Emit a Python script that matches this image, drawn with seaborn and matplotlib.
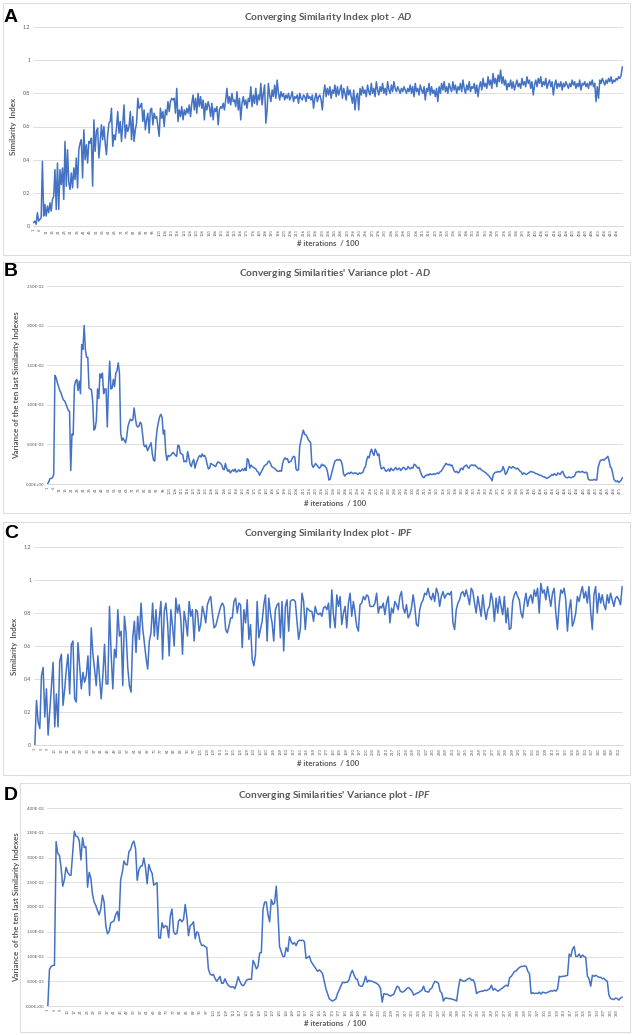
import numpy as np
import pandas as pd
import matplotlib
matplotlib.use("Agg")
import matplotlib.pyplot as plt
from matplotlib.patches import Rectangle
import seaborn as sns

# ---------------- data ----------------
ad_similarity = [
    0.02, 0.03, 0.01, 0.08, 0.03, 0.04, 0.05, 0.39, 0.06, 0.13,
    0.06, 0.12, 0.08, 0.14, 0.09, 0.16, 0.18, 0.34, 0.10, 0.38,
    0.10, 0.34, 0.25, 0.35, 0.16, 0.51, 0.24, 0.46, 0.26, 0.22,
    0.32, 0.23, 0.35, 0.28, 0.41, 0.23, 0.46, 0.50, 0.52, 0.29,
    0.58, 0.40, 0.49, 0.38, 0.51, 0.50, 0.53, 0.24, 0.64, 0.45,
    0.57, 0.59, 0.41, 0.50, 0.61, 0.52, 0.60, 0.50, 0.43, 0.55,
    0.62, 0.63, 0.71, 0.48, 0.55, 0.52, 0.59, 0.69, 0.56, 0.63,
    0.51, 0.62, 0.73, 0.53, 0.61, 0.57, 0.60, 0.69, 0.52, 0.66,
    0.51, 0.58, 0.62, 0.77, 0.71, 0.72, 0.74, 0.63, 0.70, 0.58,
    0.64, 0.68, 0.56, 0.70, 0.71, 0.61, 0.68, 0.65, 0.66, 0.60,
    0.54, 0.71, 0.65, 0.69, 0.60, 0.70, 0.67, 0.75, 0.69, 0.75,
    0.77, 0.76, 0.77, 0.68, 0.83, 0.63, 0.70, 0.66, 0.72, 0.64,
    0.70, 0.67, 0.71, 0.68, 0.73, 0.66, 0.74, 0.79, 0.70, 0.77,
    0.68, 0.80, 0.72, 0.78, 0.71, 0.76, 0.64, 0.74, 0.70, 0.75,
    0.72, 0.66, 0.74, 0.64, 0.71, 0.69, 0.72, 0.61, 0.70, 0.72,
    0.71, 0.74, 0.70, 0.76, 0.83, 0.74, 0.78, 0.73, 0.80, 0.75,
    0.76, 0.72, 0.81, 0.70, 0.77, 0.64, 0.74, 0.78, 0.73, 0.76,
    0.71, 0.77, 0.75, 0.84, 0.72, 0.79, 0.74, 0.83, 0.73, 0.79,
    0.76, 0.86, 0.73, 0.80, 0.85, 0.62, 0.70, 0.86, 0.79, 0.75,
    0.82, 0.78, 0.85, 0.77, 0.88, 0.80, 0.76, 0.81, 0.78, 0.80,
    0.76, 0.79, 0.77, 0.80, 0.76, 0.78, 0.81, 0.75, 0.78, 0.77,
    0.79, 0.74, 0.80, 0.77, 0.76, 0.79, 0.78, 0.75, 0.80, 0.77,
    0.78, 0.76, 0.79, 0.71, 0.77, 0.80, 0.75, 0.78, 0.79, 0.76,
    0.70, 0.80, 0.85, 0.78, 0.83, 0.79, 0.84, 0.77, 0.82, 0.80,
    0.85, 0.78, 0.84, 0.79, 0.82, 0.85, 0.77, 0.83, 0.80, 0.76,
    0.84, 0.79, 0.82, 0.78, 0.74, 0.82, 0.70, 0.78, 0.80, 0.70,
    0.83, 0.79, 0.84, 0.80, 0.82, 0.78, 0.85, 0.81, 0.79, 0.86,
    0.80, 0.83, 0.78, 0.87, 0.82, 0.79, 0.84, 0.81, 0.86, 0.80,
    0.83, 0.79, 0.87, 0.82, 0.80, 0.85, 0.81, 0.87, 0.83, 0.81,
    0.84, 0.82, 0.80, 0.83, 0.81, 0.84, 0.82, 0.80, 0.83, 0.81,
    0.85, 0.80, 0.84, 0.78, 0.86, 0.81, 0.83, 0.79, 0.85, 0.82,
    0.80, 0.84, 0.76, 0.83, 0.81, 0.86, 0.79, 0.84, 0.80, 0.82,
    0.78, 0.83, 0.75, 0.84, 0.80, 0.86, 0.82, 0.87, 0.81, 0.84,
    0.80, 0.86, 0.83, 0.81, 0.87, 0.82, 0.85, 0.80, 0.84, 0.82,
    0.86, 0.81, 0.88, 0.83, 0.80, 0.85, 0.82, 0.87, 0.81, 0.84,
    0.83, 0.86, 0.80, 0.85, 0.78, 0.84, 0.87, 0.82, 0.89, 0.84,
    0.86, 0.83, 0.90, 0.85, 0.88, 0.83, 0.92, 0.86, 0.89, 0.84,
    0.91, 0.87, 0.94, 0.86, 0.90, 0.85, 0.88, 0.82, 0.86, 0.84,
    0.88, 0.83, 0.87, 0.82, 0.85, 0.88, 0.84, 0.86, 0.83, 0.89,
    0.85, 0.87, 0.84, 0.90, 0.86, 0.88, 0.83, 0.87, 0.79, 0.85,
    0.88, 0.84, 0.89, 0.86, 0.90, 0.84, 0.87, 0.85, 0.89, 0.83,
    0.86, 0.88, 0.84, 0.87, 0.79, 0.85, 0.88, 0.83, 0.86, 0.84,
    0.87, 0.82, 0.86, 0.84, 0.87, 0.85, 0.83, 0.86, 0.84, 0.88,
    0.85, 0.87, 0.83, 0.86, 0.84, 0.88, 0.82, 0.86, 0.85, 0.87,
    0.84, 0.86, 0.83, 0.87, 0.85, 0.88, 0.84, 0.86, 0.75, 0.84,
    0.77, 0.88, 0.86, 0.89, 0.87, 0.85, 0.88, 0.86, 0.89, 0.87,
    0.90, 0.86, 0.88, 0.87, 0.89, 0.88, 0.90, 0.89, 0.91, 0.96,
]

# variance of the ten last similarity indexes, in units of 1e-3
ad_variance_e3 = [
    0.0, 0.3, 0.7, 0.7, 0.8, 1.2, 13.7, 13.4, 12.8, 12.3,
    11.8, 11.5, 11.0, 10.6, 10.5, 10.1, 9.7, 9.3, 9.2, 1.7,
    6.3, 6.2, 12.3, 13.0, 13.2, 11.8, 13.0, 11.4, 17.6, 17.0,
    20.0, 17.0, 16.0, 16.0, 12.1, 12.0, 11.9, 10.5, 6.8, 7.0,
    8.0, 12.0, 10.8, 13.9, 13.4, 14.0, 11.4, 12.0, 12.0, 7.2,
    12.5, 15.5, 12.0, 12.1, 13.2, 12.3, 14.0, 14.3, 15.3, 14.0,
    6.5, 5.5, 5.8, 5.5, 5.2, 6.0, 7.3, 7.8, 8.2, 8.0,
    8.1, 9.6, 8.4, 7.4, 7.2, 7.3, 7.8, 7.6, 6.2, 4.9,
    4.7, 4.9, 4.2, 4.5, 4.9, 5.2, 3.8, 3.0, 2.9, 5.5,
    7.0, 7.8, 8.5, 8.8, 8.4, 6.3, 6.8, 4.0, 3.0, 3.6,
    3.5, 3.6, 3.8, 4.0, 3.8, 3.6, 3.5, 4.9, 4.8, 3.9,
    3.8, 3.7, 2.8, 2.9, 2.8, 4.1, 3.3, 2.5, 2.2, 2.8,
    3.1, 2.0, 2.6, 3.0, 3.4, 3.6, 3.4, 3.8, 3.5, 3.6,
    3.2, 2.5, 1.9, 2.0, 2.6, 2.5, 2.4, 2.3, 2.2, 2.6,
    2.8, 2.7, 2.6, 2.4, 1.9, 1.8, 2.6, 2.0, 1.6, 1.8,
    1.4, 1.6, 1.8, 1.6, 1.9, 1.5, 1.6, 1.8, 1.6, 1.7,
    1.9, 1.7, 2.0, 1.7, 3.2, 3.0, 2.0, 2.4, 2.2, 2.1,
    2.0, 1.9, 1.6, 1.5, 1.1, 1.4, 1.7, 2.0, 2.3, 2.4,
    2.5, 2.8, 2.9, 2.6, 2.2, 2.1, 2.0, 1.9, 1.7, 1.6,
    1.6, 1.7, 1.6, 2.6, 3.1, 3.3, 3.1, 3.2, 2.7, 2.8,
    2.9, 3.3, 3.5, 3.4, 1.9, 1.7, 1.8, 4.7, 5.5, 6.2,
    6.8, 6.3, 6.2, 6.0, 5.6, 5.4, 5.2, 2.5, 2.1, 2.3,
    2.6, 2.4, 2.2, 2.0, 2.1,
    2.5, 2.3, 2.4, 2.2, 2.0, 1.4, 0.5, 0.6, 1.2, 1.8,
    2.4, 2.9, 3.0, 3.1, 3.0, 3.1, 2.9, 2.4, 1.3, 1.0,
    1.2, 1.3, 1.4, 1.3, 1.5, 1.4, 1.3, 1.4, 1.4, 1.3,
    1.2, 1.4, 1.3, 1.4, 1.5, 2.0, 2.2, 3.0, 3.5, 3.3,
    4.0, 4.4, 3.9, 3.6, 4.4, 4.1, 3.6, 3.8, 2.6, 1.9,
    2.0, 2.1, 1.8, 1.6, 1.7, 1.9, 1.6, 2.0, 1.8, 1.7,
    1.9, 2.1, 1.8, 1.9, 2.0, 1.7, 1.9, 2.1, 2.0, 1.8,
    1.9, 2.2, 2.0, 1.9, 2.1, 2.0, 2.5, 2.4, 2.2, 2.0,
    2.1, 1.6, 1.2, 0.9, 0.8, 1.0, 1.1, 1.2, 1.1, 1.3,
    1.2, 1.2, 1.3, 1.2, 1.3, 1.4, 1.3, 1.5, 1.6, 1.8,
    2.1, 2.3, 2.6, 2.5, 2.4, 2.5, 2.3, 2.4, 2.0, 1.6,
    1.5, 1.6, 1.4, 1.5, 1.9, 2.0, 1.8, 2.2, 2.3, 2.4,
    2.1, 2.0, 2.3, 2.4, 2.4, 2.3, 2.4, 2.2, 2.1, 1.9,
    2.0, 1.8, 1.7, 1.6, 1.5, 1.4, 1.2, 1.1, 0.9, 0.7,
    0.4, 1.2, 1.4, 1.5, 1.5, 1.6, 1.5, 1.6, 1.7, 2.2,
    1.8, 1.2, 1.4, 1.8, 2.2, 2.1, 2.0, 2.2, 2.1, 2.0,
    1.9, 2.0, 1.8, 1.6, 1.5, 1.2, 1.4, 1.3, 1.2, 1.3,
    1.4, 1.5, 1.6, 1.5, 1.5, 1.4, 1.3, 1.3, 1.2, 1.1,
    1.1, 1.0, 0.9, 0.9, 0.8, 0.7, 0.8, 0.9, 1.0, 1.2,
    1.1, 1.3, 1.2, 1.1, 1.4, 1.3, 1.2, 1.5, 1.6, 1.2,
    0.9, 0.8, 0.8, 0.9, 0.8, 0.8, 0.9, 0.9, 1.1, 1.5,
    1.5, 1.6, 1.5, 1.5, 1.6, 1.5, 1.4, 1.5, 1.4, 0.6,
    0.5, 0.5, 0.5, 0.5, 0.6, 0.5, 0.5, 2.0, 2.6, 3.0,
    3.0, 3.1, 3.0, 3.2, 3.3, 3.5, 3.0, 2.2, 2.0, 1.4,
    0.6, 0.4, 0.3, 0.4, 0.2, 0.3, 0.5, 0.8,
]

ipf_similarity = [
    0.00, 0.27, 0.14, 0.10, 0.42, 0.47, 0.17, 0.34, 0.06, 0.21,
    0.35, 0.50, 0.11, 0.31, 0.11, 0.51, 0.55, 0.24, 0.34, 0.46,
    0.55, 0.31, 0.61, 0.63, 0.28, 0.26, 0.62, 0.48, 0.34, 0.44,
    0.38, 0.42, 0.54, 0.30, 0.71, 0.55, 0.46, 0.36, 0.54, 0.41,
    0.28, 0.42, 0.61, 0.37, 0.37, 0.84, 0.55, 0.34, 0.58, 0.53,
    0.82, 0.66, 0.69, 0.36, 0.78, 0.68, 0.47, 0.36, 0.32, 0.65,
    0.75, 0.56, 0.78, 0.64, 0.86, 0.71, 0.62, 0.53, 0.46, 0.63,
    0.68, 0.86, 0.66, 0.82, 0.64, 0.77, 0.87, 0.52, 0.81, 0.86,
    0.74, 0.54, 0.82, 0.72, 0.60, 0.89, 0.80, 0.85, 0.76, 0.55,
    0.81, 0.75, 0.66, 0.87, 0.78, 0.82, 0.63, 0.82, 0.81, 0.69,
    0.73, 0.84, 0.80, 0.74, 0.85, 0.88, 0.90, 0.80, 0.71, 0.72,
    0.76, 0.80, 0.84, 0.86, 0.84, 0.70, 0.68, 0.72, 0.77, 0.77,
    0.87, 0.89, 0.80, 0.86, 0.85, 0.59, 0.82, 0.74, 0.88, 0.64,
    0.73, 0.52, 0.48, 0.55, 0.87, 0.65, 0.70, 0.75, 0.85, 0.91,
    0.63, 0.89, 0.80, 0.74, 0.63, 0.82, 0.85, 0.86, 0.65, 0.87,
    0.57, 0.84, 0.88, 0.69, 0.87, 0.88, 0.88, 0.87, 0.75, 0.64,
    0.70, 0.92, 0.87, 0.70, 0.83, 0.82, 0.81, 0.81, 0.75, 0.84,
    0.80, 0.79, 0.80,
    0.78, 0.83, 0.84, 0.82, 0.86, 0.71, 0.94, 0.79, 0.71, 0.91,
    0.84, 0.90, 0.73, 0.80, 0.84, 0.71, 0.86, 0.92, 0.78, 0.87,
    0.80, 0.72, 0.69, 0.85, 0.86, 0.90, 0.88, 0.91, 0.90, 0.84,
    0.84, 0.84, 0.86, 0.92, 0.80, 0.84, 0.83, 0.86, 0.79, 0.86,
    0.90, 0.74, 0.83, 0.80, 0.87, 0.85, 0.82, 0.90, 0.93, 0.83,
    0.80, 0.85, 0.77, 0.79, 0.83, 0.91, 0.84, 0.73, 0.72, 0.82,
    0.86, 0.88, 0.92, 0.91, 0.95, 0.90, 0.88, 0.92, 0.87, 0.95,
    0.92, 0.84, 0.90, 0.93, 0.89, 0.91, 0.92, 0.91, 0.93, 0.74,
    0.70, 0.82, 0.86, 0.88, 0.92, 0.93, 0.90, 0.94, 0.90, 0.85,
    0.95, 0.93, 0.86, 0.80, 0.90, 0.84, 0.78, 0.91, 0.82, 0.76,
    0.82, 0.84, 0.92, 0.87, 0.75, 0.89, 0.80, 0.90, 0.84, 0.79,
    0.90, 0.74, 0.83, 0.70, 0.71, 0.87, 0.91, 0.93, 0.90, 0.88,
    0.80, 0.77, 0.86, 0.92, 0.84, 0.89, 0.91, 0.86, 0.94, 0.90,
    0.95, 0.80, 0.98, 0.92, 0.94, 0.88, 0.96, 0.90, 0.84, 0.92,
    0.95, 0.80, 0.70, 0.85, 0.94, 0.92, 0.95, 0.88, 0.69, 0.82,
    0.88, 0.72, 0.75, 0.80, 0.90, 0.87, 0.92, 0.96, 0.89, 0.93,
    0.86, 0.96, 0.81, 0.70, 0.91, 0.96, 0.80, 0.92, 0.86, 0.91,
    0.85, 0.82, 0.91, 0.86, 0.92, 0.88, 0.84, 0.89, 0.90, 0.88,
    0.85, 0.96,
]

ipf_variance_e3 = [
    0.0, 7.4, 8.0, 8.2, 8.2, 33.2, 30.8, 30.5, 28.0, 24.2,
    25.5, 28.0, 27.0, 26.5, 26.4, 31.0, 35.3, 34.3, 34.2, 33.4,
    29.5, 34.0, 32.0, 32.2, 24.0, 27.0, 25.8, 22.5, 21.0, 20.3,
    19.3, 18.4, 19.6, 22.4, 21.0, 16.3, 14.6, 15.0, 16.8, 17.0,
    17.2, 18.5, 19.1, 17.2, 25.5, 27.0, 29.3, 28.6, 28.5, 31.2,
    31.6, 32.8, 33.3, 31.8, 25.4, 27.5, 28.2, 28.3, 29.9, 28.0,
    24.7, 28.6, 27.5, 26.8, 24.4, 24.7, 24.9, 13.8, 13.7, 16.8,
    15.8, 16.2, 16.1, 13.8, 18.2, 19.6, 15.0, 14.5, 14.7, 17.2,
    17.5, 17.0, 17.5, 20.5, 18.0, 14.2, 16.2, 16.5, 17.0, 13.6,
    15.0, 14.7, 13.0, 12.2, 12.3, 12.0, 11.8, 7.5, 6.5, 6.2,
    6.4, 5.6, 5.0, 5.4, 6.0, 4.6, 4.6, 5.5, 4.7, 4.2,
    3.9, 3.8, 3.9, 3.5, 4.5, 5.9, 5.0, 4.3, 4.1, 4.5,
    5.2, 5.4, 5.4, 5.4, 9.2, 8.5, 7.5, 8.0, 10.7, 10.8,
    19.5, 21.0, 21.0, 18.5, 17.0, 21.5, 20.5, 20.8, 24.2, 19.0,
    12.0, 11.0, 10.0, 10.0, 11.8, 11.0, 14.0, 13.0, 12.5, 12.8,
    12.2, 13.0, 13.3, 13.2, 13.3, 13.0, 9.6, 9.8, 10.1, 9.0,
    8.5, 8.0, 7.5, 7.0, 7.3,
    7.0, 6.5, 5.0, 3.5, 2.5, 1.5, 1.2, 1.0, 1.2, 1.4,
    2.5, 3.2, 4.0, 4.8, 4.7, 4.8, 4.8, 5.3, 6.5, 7.2,
    6.3, 5.5, 5.4, 4.2, 4.0, 4.0, 4.8, 6.0, 4.8, 5.2,
    5.0, 5.0, 4.8, 4.7, 4.5, 4.2, 3.5, 0.8, 2.5, 2.4,
    2.4, 2.2, 2.0, 2.2, 2.4, 3.2, 4.0, 3.8, 3.0, 2.8,
    2.9, 3.2, 3.6, 3.7, 3.4, 3.0, 2.2, 2.4, 2.6, 2.7,
    3.0, 3.2, 4.0, 3.0, 2.9, 2.8, 3.4, 3.6, 4.5, 5.0,
    4.8, 4.6, 3.0, 2.6, 1.0, 1.6, 1.6, 1.5, 1.5, 1.4,
    1.3, 1.2, 1.0, 3.5, 5.4, 5.2, 5.0, 5.0, 5.3, 5.5,
    5.6, 5.2, 5.3, 4.5, 2.5, 2.8, 2.9, 3.0, 3.0, 3.2,
    3.1, 3.3, 3.5, 4.2, 3.2, 3.5, 3.2, 3.0, 3.2, 3.5,
    3.7, 4.0, 4.2, 4.0, 5.7, 6.0, 6.5, 7.0, 7.1, 7.5,
    7.8, 8.0, 8.0, 8.1, 8.0, 7.0, 6.5, 2.5, 2.7, 2.5,
    2.6, 2.5, 2.8, 2.4, 2.8, 2.7, 2.6, 2.8, 2.9, 3.1,
    3.0, 3.2, 3.0, 3.5, 6.0, 5.9, 6.0, 6.0, 6.1, 6.2,
    10.5, 10.0, 11.5, 12.0, 10.0, 10.0, 10.5, 9.8, 10.3, 10.0,
    9.8, 6.0, 5.5, 4.0, 6.2, 6.0, 6.2, 6.0, 5.8, 5.8,
    5.5, 5.6, 5.2, 5.0, 2.2, 1.5, 1.4, 1.3, 1.6, 1.5,
    1.2, 1.6, 1.8,
]

sim_ticks = [0, 0.2, 0.4, 0.6, 0.8, 1.0, 1.2]
sim_ticklabels = ["0", "0.2", "0.4", "0.6", "0.8", "1", "1.2"]
ad_var_ticks = [0, 0.005, 0.010, 0.015, 0.020, 0.025]
ipf_var_ticks = [0, 0.005, 0.010, 0.015, 0.020, 0.025, 0.030, 0.035, 0.040]

# ---------------- style ----------------
sns.set_theme(style="white")
plt.rcParams["font.family"] = ["Lato", "DejaVu Sans"]
plt.rcParams["mathtext.fontset"] = "custom"
plt.rcParams["mathtext.it"] = "Lato:italic:bold"
plt.rcParams["mathtext.rm"] = "Lato:bold"

LINE = "#4472C4"
TXT = "#595959"
GRID = "#D9D9D9"

W, H = 633, 1035
fig = plt.figure(figsize=(W / 100, H / 100), dpi=100)
fig.patch.set_facecolor("white")


def ax_rect(left, top, right, bottom):
    return [left / W, 1 - bottom / H, (right - left) / W, (bottom - top) / H]


def box(left, top, right, bottom):
    fig.patches.append(Rectangle((left / W, 1 - bottom / H), (right - left) / W,
                                 (bottom - top) / H, transform=fig.transFigure,
                                 fill=False, edgecolor="#DDDDDD", lw=0.8))


def fmt_sci(v):
    return f"{v:.2E}"


def panel(rect, values, step, yticks, yticklabels, ylabel, title, letter,
          letter_xy, title_y, xlabel_y):
    ax = fig.add_axes(ax_rect(*rect))
    n = len(values)
    df = pd.DataFrame({"iteration": np.arange(1, n + 1), "value": values})
    sns.lineplot(data=df, x="iteration", y="value", ax=ax, color=LINE,
                 linewidth=1.1)
    ax.set_xlim(0.5, n + 0.5)
    ax.set_ylim(yticks[0], yticks[-1])
    ax.set_yticks(yticks)
    ax.set_yticklabels(yticklabels, fontsize=3.2 if len(yticklabels[0]) > 4 else 3.8,
                       color=TXT)
    xt = np.arange(1, n + 1, step)
    ax.set_xticks(xt)
    ax.set_xticklabels([str(t) for t in xt], rotation=90, fontsize=2.9, color=TXT)
    ax.tick_params(axis="both", length=0, pad=2)
    ax.grid(axis="y", color=GRID, linewidth=0.6)
    ax.set_axisbelow(True)
    for s in ["left", "right", "top"]:
        ax.spines[s].set_visible(False)
    ax.spines["bottom"].set_color(GRID)
    ax.spines["bottom"].set_linewidth(0.7)
    ax.set_xlabel("")
    ax.set_ylabel(ylabel, fontsize=5.8, color=TXT, fontweight="bold", labelpad=4)
    cx = (rect[0] + rect[2]) / 2
    fig.text(cx / W, 1 - title_y / H, title, ha="center", va="center",
             fontsize=7.3, color=TXT, fontweight="bold")
    fig.text(cx / W, 1 - xlabel_y / H, "# iterations  / 100", ha="center",
             va="center", fontsize=5.6, color=TXT, fontweight="bold")
    fig.text(letter_xy[0] / W, 1 - letter_xy[1] / H, letter, ha="left",
             va="center", fontsize=14, fontweight="bold", color="black",
             family=["Liberation Sans", "DejaVu Sans"])
    return ax


box(3, 3, 630, 255)
box(3, 262, 630, 513)
box(3, 522, 630, 775)
box(20, 783, 630, 1032)

ad_var = [v * 1e-3 for v in ad_variance_e3]
ipf_var = [v * 1e-3 for v in ipf_variance_e3]

panel((33, 27, 623, 226), ad_similarity, 5, sim_ticks, sim_ticklabels,
      "Similarity  Index", r"Converging Similarity Index plot - $AD$", "A",
      (4, 17), 17, 243)
panel((47, 286, 623, 484), ad_var, 5, ad_var_ticks,
      [fmt_sci(t) for t in ad_var_ticks],
      "Variance of the ten last Similarity Indexes",
      r"Converging Similarities' Variance plot - $AD$", "B", (4, 272), 273, 503)
panel((34, 547, 623, 745), ipf_similarity, 4, sim_ticks, sim_ticklabels,
      "Similarity  Index", r"Converging Similarity Index plot - $IPF$", "C",
      (4, 534), 533, 763)
panel((47, 808, 623, 1006), ipf_var, 4, ipf_var_ticks,
      [fmt_sci(t) for t in ipf_var_ticks],
      "Variance  of the ten last Similarity Indexes",
      r"Converging Similarities' Variance plot - $IPF$", "D", (4, 795), 795, 1023)

fig.savefig("out.png", dpi=100, facecolor="white")
